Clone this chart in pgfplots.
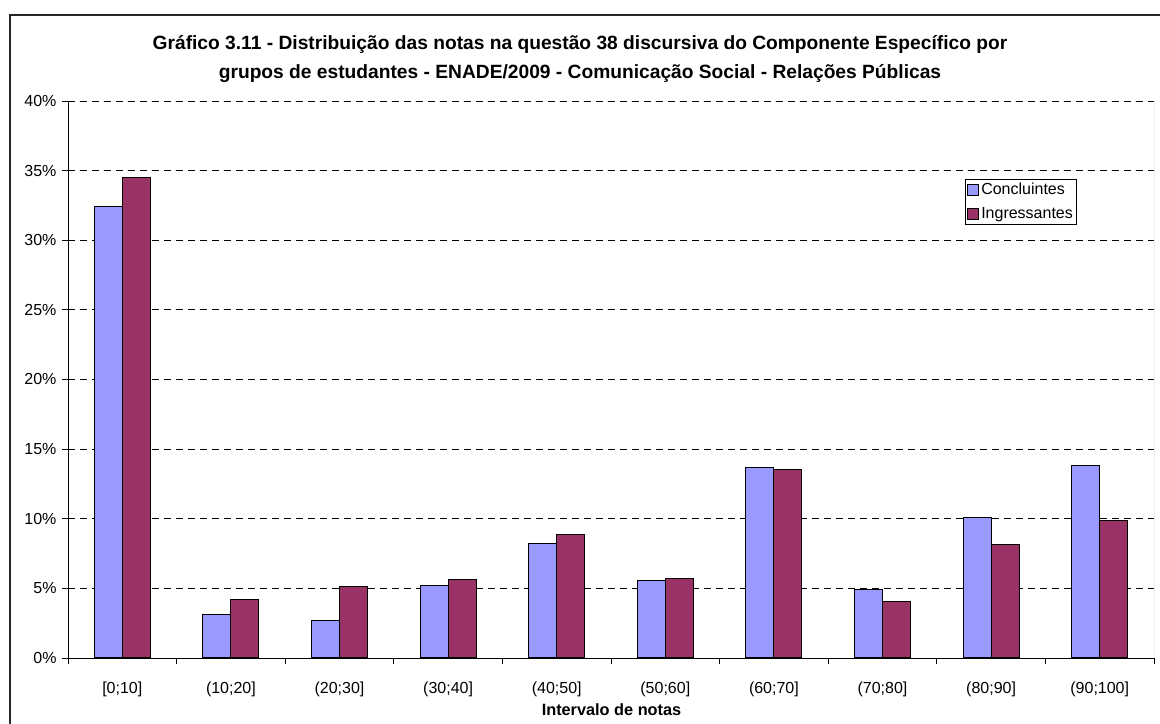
\documentclass[border=0pt]{standalone}
\usepackage{fontspec}
\setmainfont{Liberation Sans}
\usepackage{pgfplots}
\pgfplotsset{compat=1.18}
\definecolor{concl}{HTML}{9999FF}
\definecolor{ingr}{HTML}{993366}
\pgfplotsset{
  boxlegend/.style={
    legend image code/.code={\draw[#1, line width=0.8bp] (0bp,-5.5bp) rectangle (11bp,5.5bp);}
  }
}
\begin{document}
\begin{tikzpicture}[x=1bp,y=1bp]
\path[use as bounding box] (0,0) rectangle (1160,724);
\draw[line width=1.3bp, black!85] (10,-20) rectangle (1180,709);
\node[align=center, font=\bfseries\fontsize{19.2bp}{29bp}\selectfont] at (580,664.5)
  {Gráfico 3.11 - Distribuição das notas na questão 38 discursiva do Componente Específico por\\
   grupos de estudantes - ENADE/2009 - Comunicação Social - Relações Públicas};
\begin{axis}[
    at={(68bp,66bp)}, anchor=south west,
    scale only axis, width=1086bp, height=557bp,
    ybar=0pt, bar width=28bp,
    xmin=-0.5, xmax=9.5, ymin=0, ymax=40,
    axis x line*=bottom, axis y line*=left,
    axis line style={black, line width=0.9bp},
    tick align=outside,
    ytick={0,5,...,40},
    yticklabels={{0\%},{5\%},{10\%},{15\%},{20\%},{25\%},{30\%},{35\%},{40\%}},
    xtick={0,1,2,3,4,5,6,7,8,9},
    xticklabels={{[0;10]},{(10;20]},{(20;30]},{(30;40]},{(40;50]},{(50;60]},{(60;70]},{(70;80]},{(80;90]},{(90;100]}},
    minor xtick={-0.5,0.5,1.5,2.5,3.5,4.5,5.5,6.5,7.5,8.5,9.5},
    major x tick style={draw=none},
    minor x tick style={black, line width=0.8bp},
    minor tick length=6bp,
    major tick length=6bp,
    ytick style={black, line width=0.8bp},
    ticklabel style={font=\fontsize{16bp}{18bp}\selectfont},
    xticklabel style={anchor=center, yshift=-25bp},
    yticklabel style={anchor=east, xshift=-2bp},
    ymajorgrids,
    major grid style={black, line width=0.8bp, dash pattern=on 7bp off 5bp},
    legend style={at={(0.826,0.860)}, anchor=north west, draw=black, line width=0.8bp,
      font=\fontsize{16bp}{18bp}\selectfont, inner sep=2bp, row sep=7bp,
      legend cell align=left},
    boxlegend,
    every axis plot/.append style={draw=black, line width=1bp},
  ]
\addplot[fill=concl] coordinates {
  (0,32.4) (1,3.13) (2,2.70) (3,5.21) (4,8.20) (5,5.59) (6,13.67) (7,4.92) (8,10.10) (9,13.83)};
\addplot[fill=ingr] coordinates {
  (0,34.5) (1,4.23) (2,5.11) (3,5.66) (4,8.90) (5,5.71) (6,13.57) (7,4.09) (8,8.12) (9,9.87)};
\legend{Concluintes,Ingressantes}
\draw[gray, line width=1bp] (rel axis cs:1,0) -- (rel axis cs:1,1);
\end{axis}
\node[font=\bfseries\fontsize{16.3bp}{18bp}\selectfont] at (611.5,14) {Intervalo de notas};
\end{tikzpicture}
\end{document}
